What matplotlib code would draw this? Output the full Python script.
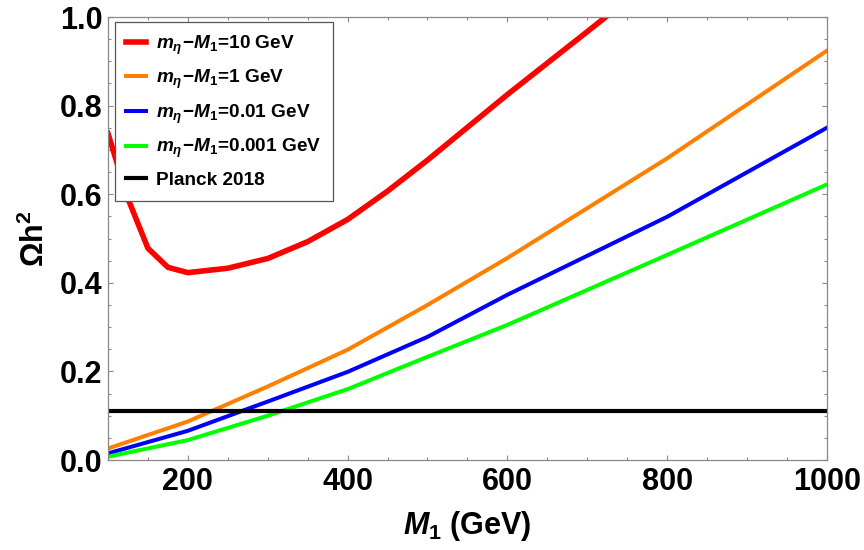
import numpy as np
import matplotlib
matplotlib.use('Agg')
import matplotlib.pyplot as plt
from matplotlib.ticker import MultipleLocator

plt.rcParams['font.family'] = 'Liberation Sans'
plt.rcParams['font.weight'] = 'bold'
plt.rcParams['axes.labelweight'] = 'bold'
plt.rcParams['mathtext.fontset'] = 'custom'
plt.rcParams['mathtext.rm'] = 'Liberation Sans:bold'
plt.rcParams['mathtext.it'] = 'Liberation Sans:italic:bold'
plt.rcParams['mathtext.bf'] = 'Liberation Sans:bold'

# Relic density vs M1
m1_red = [100, 125, 150, 175, 200, 250, 300, 350, 400, 450, 500, 600, 700, 800]
omega_red = [0.737, 0.59, 0.478, 0.435, 0.423, 0.433, 0.455, 0.493, 0.543, 0.607, 0.677, 0.825, 0.967, 1.11]

m1 = [100, 200, 300, 400, 500, 600, 800, 1000]
omega_orange = [0.026, 0.087, 0.166, 0.249, 0.350, 0.456, 0.681, 0.924]
omega_blue = [0.015, 0.066, 0.132, 0.199, 0.278, 0.373, 0.549, 0.750]
omega_green = [0.0075, 0.045, 0.100, 0.160, 0.233, 0.305, 0.463, 0.622]

planck = 0.11

labels = [r'$m_\eta\!-\!M_1$=10 GeV', r'$m_\eta\!-\!M_1$=1 GeV',
          r'$m_\eta\!-\!M_1$=0.01 GeV', r'$m_\eta\!-\!M_1$=0.001 GeV', 'Planck 2018']

fig = plt.figure(figsize=(8.64, 5.5), dpi=100)
ax = fig.add_axes([0.125, 0.1636, 0.832, 0.8054])

ax.plot(m1_red, omega_red, color='#ff0000', lw=4.0, label=labels[0])
ax.plot(m1, omega_orange, color='#ff8000', lw=2.9, label=labels[1])
ax.plot(m1, omega_blue, color='#0000ff', lw=2.9, label=labels[2])
ax.plot(m1, omega_green, color='#00ff00', lw=2.9, label=labels[3])
ax.axhline(planck, color='black', lw=3.0, label=labels[4])

ax.set_xlim(100, 1000)
ax.set_ylim(0, 1.0)
ax.xaxis.set_major_locator(MultipleLocator(200))
ax.xaxis.set_minor_locator(MultipleLocator(50))
ax.yaxis.set_major_locator(MultipleLocator(0.2))
ax.yaxis.set_minor_locator(MultipleLocator(0.05))
ax.yaxis.set_major_formatter(matplotlib.ticker.FormatStrFormatter('%.1f'))

for s in ax.spines.values():
    s.set_color('#888888')
    s.set_linewidth(0.9)
ax.tick_params(which='both', direction='in', top=True, right=True, color='#888888', width=0.8)
ax.tick_params(which='major', length=3.6)
ax.tick_params(which='minor', length=2.2)
ax.tick_params(axis='x', labelsize=22, pad=5)
ax.tick_params(axis='y', labelsize=22, pad=4)

ax.set_xlabel(r'$M_1$ (GeV)', fontsize=22, labelpad=9)
ax.set_ylabel(r'$\mathrm{\Omega h^2}$', fontsize=22, labelpad=6)

leg = ax.legend(loc='upper left', bbox_to_anchor=(0.0097, 0.989), borderaxespad=0,
                fontsize=13.7, handlelength=1.05, handletextpad=0.5, labelspacing=0.6,
                borderpad=0.6, fancybox=False, framealpha=1, edgecolor='#555555')
leg.get_frame().set_linewidth(0.9)

fig.savefig('out.png', dpi=100)
